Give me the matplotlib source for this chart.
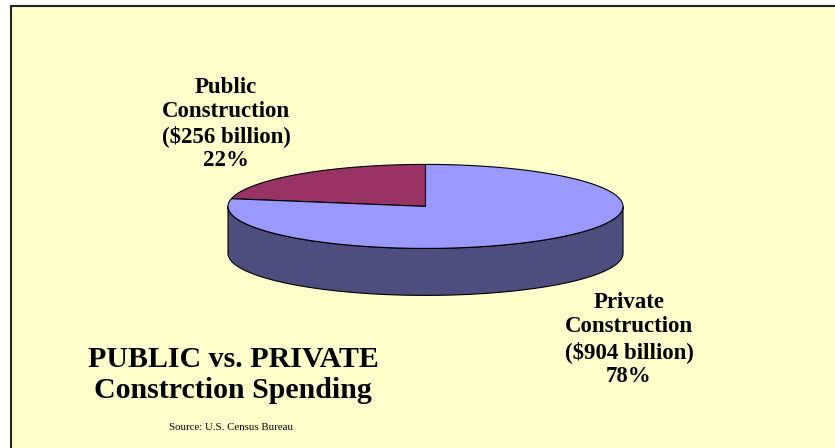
import matplotlib
matplotlib.use("Agg")
import matplotlib.pyplot as plt
from matplotlib.patches import Polygon, Rectangle
import numpy as np

# data
labels = ['Public\nConstruction', 'Private\nConstruction']
values = [256, 904]  # $ billion
colors = ['#993366', '#9999FF']
side_colors = ['#4D1A33', '#4D4D7E']

title = 'PUBLIC vs. PRIVATE\nConstrction Spending'
source = 'Source: U.S. Census Bureau'

plt.rcParams['font.family'] = ['Liberation Serif', 'DejaVu Serif']

fig = plt.figure(figsize=(8.35, 4.48), dpi=100)
fig.patch.set_facecolor('white')
ax = fig.add_axes([0, 0, 1, 1])
ax.set_xlim(0, 835)
ax.set_ylim(448, 0)
ax.axis('off')

# background panel with border
ax.add_patch(Rectangle((10.5, 6.5), 830, 450, facecolor='#FFFFCC',
                       edgecolor='#222222', lw=1.5, zorder=0))

# 3d pie geometry (pixel space)
cx, cy = 425.5, 206.4
a, b = 197.5, 42.0
depth = 47


def pt(theta, dy=0):
    t = np.radians(theta)
    return cx + a * np.cos(t), cy - b * np.sin(t) + dy


total = sum(values)
fracs = [v / total for v in values]

# wedges start at 12 o'clock, go counter-clockwise
starts = []
ang = 90.0
for f in fracs:
    starts.append((ang, ang + 360 * f))
    ang += 360 * f

# front side (visible between 180 and 360 degrees)
for (t0, t1), sc in zip(starts, side_colors):
    lo, hi = max(t0, 180), min(t1, 360)
    if hi > lo:
        th = np.linspace(lo, hi, 200)
        top = [pt(t) for t in th]
        bot = [pt(t, depth) for t in th[::-1]]
        ax.add_patch(Polygon(top + bot, closed=True, facecolor=sc,
                             edgecolor='black', lw=0.8, zorder=2))

# top faces
for (t0, t1), c in zip(starts, colors):
    th = np.linspace(t0, t1, 300)
    poly = [(cx, cy)] + [pt(t) for t in th]
    ax.add_patch(Polygon(poly, closed=True, facecolor=c,
                         edgecolor='black', lw=0.8, zorder=3))

# labels
label_pos = [(226, 124), (629, 339.5)]
for lab, v, f, (x, y) in zip(labels, values, fracs, label_pos):
    txt = f'{lab}\n(${v} billion)\n{round(f * 100)}%'
    ax.text(x, y, txt, ha='center', va='center', fontsize=16.5,
            fontweight='bold', linespacing=1.2, zorder=5)

ax.text(233, 375, title, ha='center', va='center', fontsize=21.5,
        fontweight='bold', linespacing=1.15, zorder=5)
ax.text(231, 428, source, ha='center', va='center', fontsize=7.8, zorder=5)

fig.savefig('out.png', dpi=100, facecolor='white')
